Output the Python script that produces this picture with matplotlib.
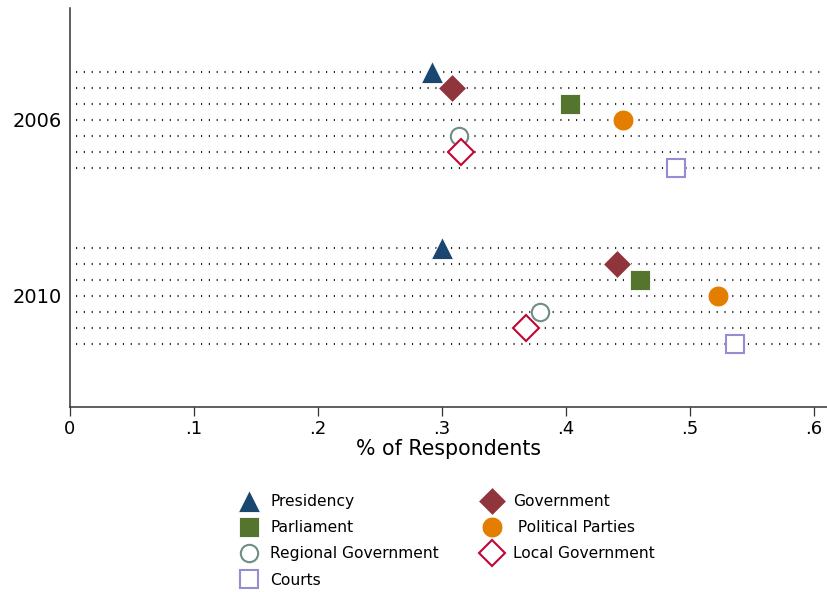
import numpy as np
import matplotlib.pyplot as plt

# trust in institutions, share of respondents
years = ['2006', '2010']
institutions = ['Presidency', 'Government', 'Parliament', ' Political Parties',
                'Regional Government', 'Local Government', 'Courts']
vals_2006 = [0.292, 0.308, 0.403, 0.446, 0.314, 0.315, 0.489]
vals_2010 = [0.300, 0.441, 0.460, 0.523, 0.379, 0.368, 0.536]

# marker style for each institution (stata s2color-ish)
markers = ['^', 'D', 's', 'o', 'o', 'D', 's']
colors = ['#1a476f', '#90353b', '#55752f', '#e37e00', '#6e8e84', '#c10534', '#938dd2']
filled = [True, True, True, True, False, False, False]
msize = [16, 14, 15, 15, 13.5, 14, 14]

fig = plt.figure(figsize=(8.27, 5.92), dpi=100)
ax = fig.add_axes([0.0846, 0.3133, 0.9154, 0.6731])

n = len(institutions)
gap = 11  # rows between the start of each year block
ypos_2006 = np.arange(n)
ypos_2010 = np.arange(n) + gap

# dotted guide lines for every row
for y in np.concatenate([ypos_2006, ypos_2010]):
    ax.axhline(y, xmin=0.008, xmax=0.993, color='#222222', lw=1.5,
               ls=(0, (0.55, 3.2)), zorder=1)

handles = []
for i in range(n):
    for y, v in [(ypos_2006[i], vals_2006[i]), (ypos_2010[i], vals_2010[i])]:
        if filled[i]:
            h, = ax.plot(v, y, ls='none', marker=markers[i], ms=msize[i],
                         mfc=colors[i], mec='white', mew=0.6, zorder=3)
        else:
            h, = ax.plot(v, y, ls='none', marker=markers[i], ms=msize[i] - 1,
                         mfc='white', mec=colors[i], mew=1.5, zorder=3)
    h.set_label(institutions[i])
    handles.append(h)

ax.set_xlim(0, 0.6105)
ax.set_ylim(20.93, -3.98)

ax.set_xticks([0, 0.1, 0.2, 0.3, 0.4, 0.5, 0.6])
ax.set_xticklabels(['0', '.1', '.2', '.3', '.4', '.5', '.6'], fontsize=13)
ax.set_yticks([(ypos_2006[0] + ypos_2006[-1]) / 2, (ypos_2010[0] + ypos_2010[-1]) / 2])
ax.set_yticklabels(years, fontsize=14)
ax.tick_params(axis='x', length=6.5, width=0.9, color='#333333', pad=3)
ax.tick_params(axis='y', length=0, pad=6)
ax.set_xlabel('% of Respondents', fontsize=14.8, labelpad=1)

for s in ['top', 'right']:
    ax.spines[s].set_visible(False)
for s in ['left', 'bottom']:
    ax.spines[s].set_color('#333333')
    ax.spines[s].set_linewidth(1.1)

order = [0, 2, 4, 6, 1, 3, 5]
fig.legend([handles[k] for k in order], [institutions[k] for k in order],
           ncol=2, loc='upper left', bbox_to_anchor=(0.279, 0.184),
           frameon=False, fontsize=11.2, handlelength=1.0, handletextpad=0.85,
           columnspacing=2.9, labelspacing=0.72, borderpad=0.2)

plt.savefig('out.png', dpi=100)
